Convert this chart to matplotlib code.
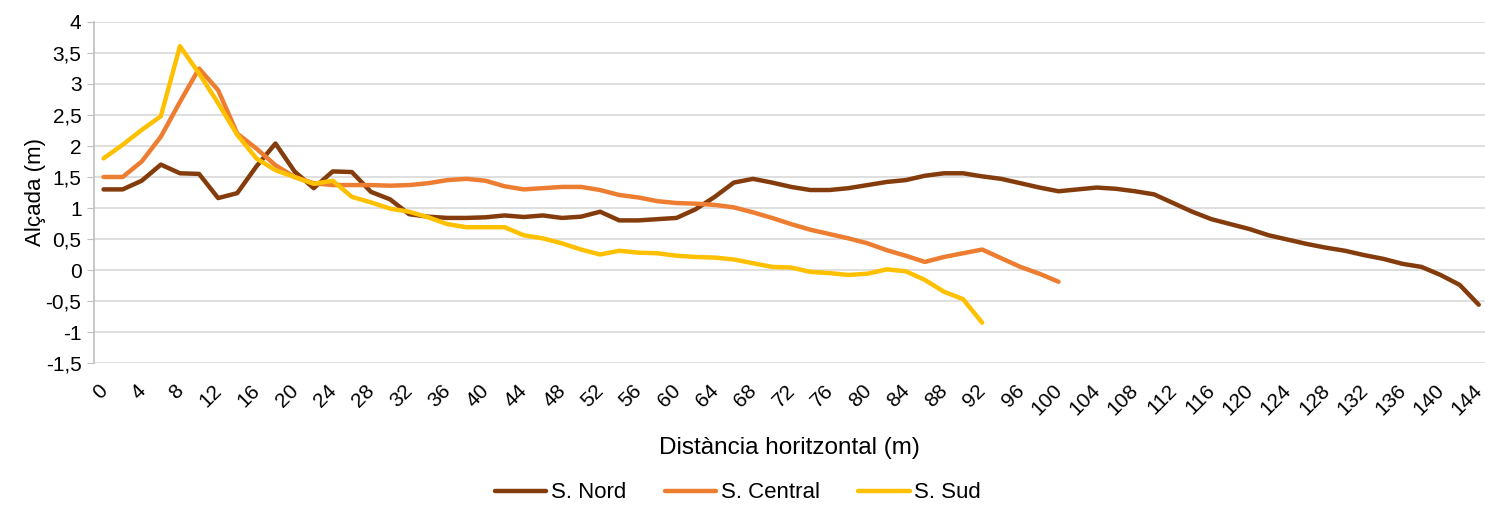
import matplotlib
matplotlib.use("Agg")
import matplotlib.pyplot as plt
import matplotlib.transforms as mtransforms

plt.rcParams['font.family'] = ['Liberation Sans', 'DejaVu Sans']

# Horizontal distance (m), one sample every 2 m
dist_nord = list(range(0, 145, 2))
dist_central = list(range(0, 101, 2))
dist_sud = list(range(0, 93, 2))

nord = [1.30, 1.30, 1.44, 1.70, 1.56, 1.55, 1.16, 1.24, 1.67, 2.04,
        1.59, 1.32, 1.59, 1.58, 1.26, 1.14, 0.90, 0.86, 0.84, 0.84,
        0.85, 0.88, 0.855, 0.88, 0.84, 0.86, 0.94, 0.80, 0.80, 0.82,
        0.84, 0.98, 1.18, 1.41, 1.47, 1.41, 1.34, 1.29, 1.29, 1.32,
        1.37, 1.42, 1.45, 1.52, 1.56, 1.56, 1.51, 1.47, 1.40, 1.33,
        1.27, 1.30, 1.33, 1.31, 1.27, 1.22, 1.08, 0.94, 0.82, 0.74,
        0.66, 0.56, 0.49, 0.42, 0.36, 0.31, 0.24, 0.18, 0.10, 0.05,
        -0.08, -0.24, -0.56]

central = [1.50, 1.50, 1.75, 2.15, 2.71, 3.25, 2.90, 2.20, 1.96, 1.69,
           1.50, 1.40, 1.37, 1.37, 1.37, 1.36, 1.37, 1.40, 1.45, 1.47,
           1.44, 1.35, 1.30, 1.32, 1.34, 1.34, 1.29, 1.21, 1.17, 1.11,
           1.08, 1.07, 1.05, 1.01, 0.93, 0.84, 0.74, 0.65, 0.58, 0.51,
           0.43, 0.32, 0.23, 0.13, 0.21, 0.27, 0.33, 0.19, 0.05, -0.06,
           -0.19]

sud = [1.80, 2.02, 2.26, 2.48, 3.61, 3.17, 2.69, 2.18, 1.80, 1.61,
       1.50, 1.39, 1.44, 1.18, 1.09, 0.99, 0.94, 0.85, 0.74, 0.69,
       0.69, 0.69, 0.56, 0.51, 0.43, 0.33, 0.25, 0.31, 0.28, 0.27,
       0.23, 0.21, 0.20, 0.17, 0.11, 0.05, 0.04, -0.03, -0.05, -0.08,
       -0.06, 0.01, -0.02, -0.16, -0.35, -0.47, -0.85]

series_names = ['S. Nord', 'S. Central', 'S. Sud']
series_colors = ['#843C0C', '#ED7D31', '#FFC000']

y_ticks = [-1.5, -1, -0.5, 0, 0.5, 1, 1.5, 2, 2.5, 3, 3.5, 4]
x_ticks = list(range(0, 145, 4))

fig = plt.figure(figsize=(14.85, 5.05), dpi=100)
ax = fig.add_axes([94 / 1485, 1 - 363 / 505, 1 - 94 / 1485, (363 - 22) / 505])

for xs, ys, name, color in zip([dist_nord, dist_central, dist_sud],
                               [nord, central, sud], series_names, series_colors):
    ax.plot(xs, ys, color=color, lw=3.2, label=name,
            solid_joinstyle='round', solid_capstyle='round', clip_on=False)

ax.set_xlim(-1, -1 + (1485 - 94) / 9.55)
ax.set_ylim(-1.5, 4)
ax.set_yticks(y_ticks)
ax.set_yticklabels([f"{v:g}".replace('.', ',') for v in y_ticks], fontsize=15)
ax.set_xticks(x_ticks)
ax.set_xticklabels([str(v) for v in x_ticks], fontsize=15, rotation=45,
                   ha='right', va='top', rotation_mode='anchor')
ax.tick_params(axis='x', length=0, pad=13)
ax.tick_params(axis='y', length=5, color='#BFBFBF', pad=4)

# nudge the slanted distance labels a little to the left
offset = mtransforms.ScaledTranslation(-6 / 100, 0, fig.dpi_scale_trans)
for lbl in ax.get_xticklabels():
    lbl.set_transform(lbl.get_transform() + offset)

ax.grid(axis='y', color='#D9D9D9', lw=1.2)
ax.set_axisbelow(True)
for side in ['top', 'right', 'bottom']:
    ax.spines[side].set_visible(False)
ax.spines['left'].set_color('#BFBFBF')
ax.spines['left'].set_linewidth(1.2)

ax.set_ylabel('Alçada (m)', fontsize=16, labelpad=0)
ax.set_xlabel('Distància horitzontal (m)', fontsize=17.5, labelpad=13)

fig.legend(loc='center', bbox_to_anchor=(0.497, 0.024), ncol=3, frameon=False,
           fontsize=16, handlelength=2.3, columnspacing=1.75, handletextpad=0.2)

fig.savefig('out.png', dpi=100)
